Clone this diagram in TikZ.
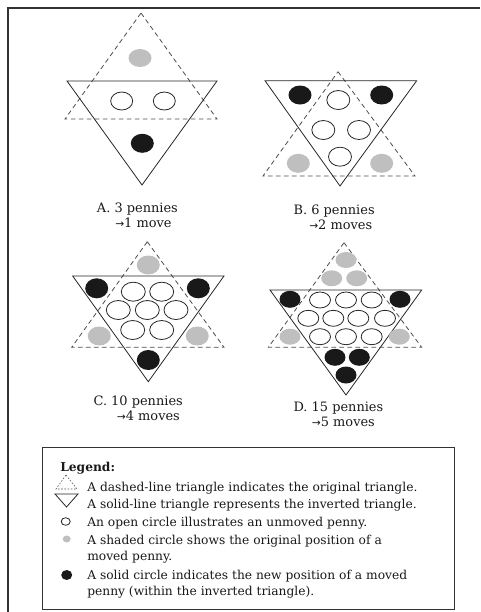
\documentclass[tikz,border=0pt]{standalone}
\usepackage{fontspec}
\setmainfont{DejaVu Serif}
\newfontfamily\arrowfont{DejaVu Sans}
\newcommand{\mvarrow}{{\arrowfont\fontsize{8}{8}\selectfont\char"2192}}
\begin{document}
\begin{tikzpicture}[x=0.75pt, y=-0.75pt,
        dashtri/.style={draw=black!70, line width=0.6pt, dash pattern=on 3.5pt off 2.5pt},
        soltri/.style={draw=black!85, line width=0.6pt},
        unmoved/.style={draw=black!85, line width=0.6pt, fill=white},
        oldpos/.style={fill=black!25},
        newpos/.style={fill=black!90},
        caption/.style={anchor=base west, inner sep=0pt, text=black!90, font=\fontsize{9.7}{11}\selectfont},
        legtext/.style={anchor=base west, inner sep=0pt, text=black!90, font=\fontsize{9.2}{11}\selectfont}
    ]
        \useasboundingbox (0,0) rectangle (480,612);
        \draw[line width=0.8pt, black!80] (8,612) -- (8,8) -- (480,8);

        % A. 3 pennies
        \draw[dashtri] (141,13) -- (217,119) -- (65,119) -- cycle;
        \draw[soltri] (67,81) -- (217,81) -- (142,185) -- cycle;
        \fill[oldpos] (140,58) ellipse (11.5 and 9);
        \foreach \x in {121.7,164.3}
            \draw[unmoved] (\x,101) ellipse (11 and 9);
        \fill[newpos] (142.3,143.3) ellipse (11.5 and 9.5);
        \node[caption] (capA) at (96.7,212) {A. 3 pennies};
        \node[caption] (movA) at (115,227.5) {\mvarrow1 move};

        % B. 6 pennies
        \draw[dashtri] (338,71.7) -- (415,176) -- (263,176) -- cycle;
        \draw[soltri] (265,80.7) -- (416.7,80.7) -- (340,186) -- cycle;
        \foreach \x/\y in {338.3/100, 323.3/130, 359/130, 340/156.7}
            \draw[unmoved] (\x,\y) ellipse (11.5 and 9.5);
        \foreach \x in {298.3,381.7}
            \fill[oldpos] (\x,163.3) ellipse (11.5 and 9.5);
        \foreach \x in {300,381.7}
            \fill[newpos] (\x,95) ellipse (11.5 and 9.5);
        \node[caption] (capB) at (293.3,214.5) {B. 6 pennies};
        \node[caption] (movB) at (309,229.5) {\mvarrow2 moves};

        % C. 10 pennies
        \draw[dashtri] (147.3,241.7) -- (224,347.3) -- (71.7,347.3) -- cycle;
        \draw[soltri] (72.7,276) -- (224,276) -- (148.3,381.7) -- cycle;
        \foreach \x/\y in {148.3/265, 99.3/336, 197.3/336}
            \fill[oldpos] (\x,\y) ellipse (11.5 and 9.5);
        \foreach \x/\y in {133.3/291.7, 161.7/291.7, 118.3/310, 147.3/310, 176/310, 132.7/330, 161.7/330}
            \draw[unmoved] (\x,\y) ellipse (12 and 9.5);
        \foreach \x/\y in {96.7/288.3, 198.3/288.3, 148.3/360}
            \fill[newpos] (\x,\y) ellipse (11.5 and 10);
        \node[caption] (capC) at (93.3,405.5) {C. 10 pennies};
        \node[caption] (movC) at (116.7,420.5) {\mvarrow4 moves};

        % D. 15 pennies
        \draw[dashtri] (344,242.7) -- (421.7,347.3) -- (268.3,347.3) -- cycle;
        \draw[soltri] (270,290) -- (421.7,290) -- (346,395) -- cycle;
        \foreach \x/\y in {346/260, 331.7/278.3, 356.7/278.3, 290/336.7, 399.3/336.7}
            \fill[oldpos] (\x,\y) ellipse (10.5 and 8);
        \foreach \x/\y in {320/300, 346/300, 371.7/300, 308.3/318.3, 333.3/318.3, 358.3/318.3, 385/318.3, 320/336.7, 346/336.7, 371.7/336.7}
            \draw[unmoved] (\x,\y) ellipse (10.5 and 8);
        \foreach \x/\y in {290/299.3, 400/299.3, 335/357.3, 359.3/357.3, 346/375}
            \fill[newpos] (\x,\y) ellipse (10.5 and 8.5);
        \node[caption] (capD) at (293.3,411) {D. 15 pennies};
        \node[caption] (movD) at (311.7,426) {\mvarrow5 moves};

        % legend
        \draw[line width=0.6pt, black!80] (42,447) rectangle (454,609);
        \node[legtext, font=\fontsize{9.2}{11}\selectfont\bfseries] (leghead) at (60,471) {Legend:};
        \draw[dashtri, line width=0.4pt, dash pattern=on 1.2pt off 1.2pt] (66,475) -- (77,489) -- (56,489) -- cycle;
        \node[legtext] (leg1) at (87,491) {A dashed-line triangle indicates the original triangle.};
        \draw[soltri] (55,494) -- (78,494) -- (66.5,507) -- cycle;
        \node[legtext] (leg2) at (87,508.5) {A solid-line triangle represents the inverted triangle.};
        \draw[unmoved] (65.7,521.5) ellipse (4.5 and 3.8);
        \node[legtext] (leg3) at (87,526) {An open circle illustrates an unmoved penny.};
        \fill[oldpos] (66.7,539) ellipse (4 and 3.5);
        \node[legtext] (leg4) at (87,544) {A shaded circle shows the original position of a};
        \node[legtext] (leg4b) at (87,560) {moved penny.};
        \fill[newpos] (66.7,575) ellipse (5.5 and 5);
        \node[legtext] (leg5) at (87,579) {A solid circle indicates the new position of a moved};
        \node[legtext] (leg5b) at (87,595) {penny (within the inverted triangle).};
    \end{tikzpicture}
\end{document}
